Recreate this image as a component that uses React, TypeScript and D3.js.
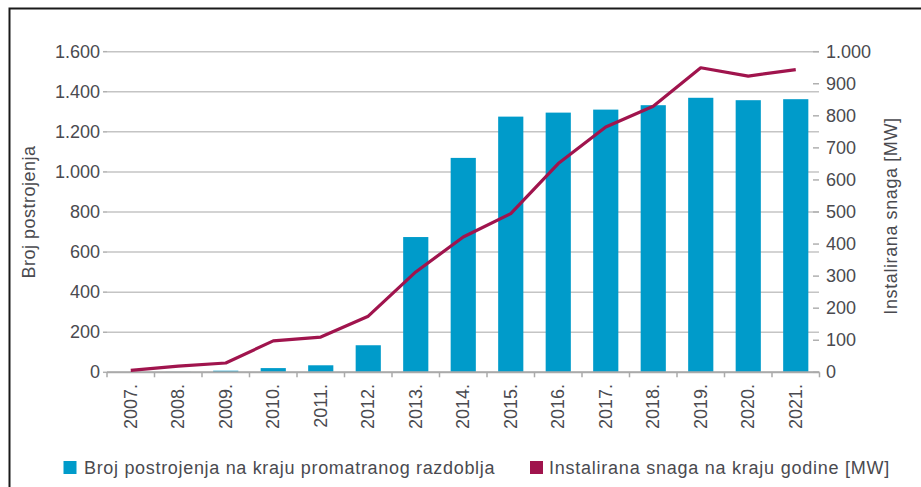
import React from 'react';
import * as d3 from 'd3';

const years = ['2007.', '2008.', '2009.', '2010.', '2011.', '2012.', '2013.', '2014.', '2015.', '2016.', '2017.', '2018.', '2019.', '2020.', '2021.'];
const plantCounts = [0, 2, 8, 21, 35, 135, 675, 1070, 1276, 1296, 1311, 1333, 1370, 1358, 1363];
const capacityMW = [6, 19, 29, 98, 110, 175, 313, 422, 495, 651, 765, 830, 950, 924, 944];
const leftTicks = [0, 200, 400, 600, 800, 1000, 1200, 1400, 1600];
const rightTicks = [0, 100, 200, 300, 400, 500, 600, 700, 800, 900, 1000];
const leftTitle = 'Broj postrojenja';
const rightTitle = 'Instalirana snaga [MW]';
const legendBars = 'Broj postrojenja na kraju promatranog razdoblja';
const legendLine = 'Instalirana snaga na kraju godine [MW]';

const BAR = '#009bca';
const LINE = '#a0144d';
const TEXT = '#4a4a4f';
const FONT = '"Liberation Sans", Arial, sans-serif';

const fmt = (d: number) => d3.format(',')(d).replace(/,/g, '.');

export default function App() {
  const x = d3.scaleBand<string>().domain(years).range([107, 819.5]).padding(0);
  const yL = d3.scaleLinear().domain([0, 1600]).range([372.3, 51.7]);
  const yR = d3.scaleLinear().domain([0, 1000]).range([372.3, 51.7]);
  const bw = x.bandwidth();
  const barW = bw * 0.53;
  const cx = (y: string) => (x(y) as number) + bw / 2;
  const line = d3
    .line<number>()
    .x((_, i) => cx(years[i]))
    .y((d) => yR(d));
  const boundaries = [...years.map((y) => x(y) as number), 819.5];

  return (
    <svg
      width={921}
      height={487}
      style={{ position: 'absolute', left: 0, top: 0, background: '#fff' }}
      fontFamily={FONT}
    >
      <rect x={0} y={0} width={921} height={487} fill="#fff" />
      {/* frame */}
      <path d="M9.5,500 L9.5,8.5 L930,8.5" fill="none" stroke="#1a1a1a" strokeWidth={2} />

      {/* gridlines */}
      {leftTicks.map((t) => (
        <line key={'g' + t} x1={107} x2={819} y1={yL(t)} y2={yL(t)} stroke="#c4c4c4" strokeWidth={1.5} />
      ))}
      {leftTicks.map((t) => (
        <line key={'lt' + t} x1={103} x2={107} y1={yL(t)} y2={yL(t)} stroke="#b0b0b0" strokeWidth={1.5} />
      ))}
      {rightTicks.map((t) => (
        <line key={'rt' + t} x1={813} x2={819} y1={yR(t)} y2={yR(t)} stroke="#b0b0b0" strokeWidth={1.5} />
      ))}

      {/* bars */}
      {years.map((y, i) => (
        <rect
          key={'b' + y}
          x={cx(y) - barW / 2}
          y={yL(plantCounts[i])}
          width={barW}
          height={yL(0) - yL(plantCounts[i])}
          fill={BAR}
        />
      ))}

      {/* x axis */}
      <line x1={107} x2={819.5} y1={yL(0)} y2={yL(0)} stroke="#aaaaaa" strokeWidth={2} />
      {boundaries.map((b, i) => (
        <line key={'xt' + i} x1={b} x2={b} y1={yL(0)} y2={yL(0) + 5} stroke="#aaaaaa" strokeWidth={1.5} />
      ))}

      {/* line */}
      <path d={line(capacityMW) || ''} fill="none" stroke={LINE} strokeWidth={3.2} strokeLinejoin="round" />

      {/* tick labels */}
      {leftTicks.map((t) => (
        <text key={'ll' + t} x={100} y={yL(t)} textAnchor="end" dominantBaseline="central" fontSize={18} fill={TEXT}>
          {fmt(t)}
        </text>
      ))}
      {rightTicks.map((t) => (
        <text key={'rl' + t} x={826} y={yR(t)} textAnchor="start" dominantBaseline="central" fontSize={18} fill={TEXT}>
          {fmt(t)}
        </text>
      ))}
      {years.map((y) => (
        <text
          key={'xl' + y}
          transform={`translate(${cx(y)},384) rotate(-90)`}
          textAnchor="end"
          dominantBaseline="central"
          fontSize={18}
          fill={TEXT}
        >
          {y}
        </text>
      ))}

      {/* axis titles */}
      <text transform="translate(29,212) rotate(-90)" textAnchor="middle" dominantBaseline="central" fontSize={18} letterSpacing={0.5} fill={TEXT}>
        {leftTitle}
      </text>
      <text transform="translate(891,216) rotate(-90)" textAnchor="middle" dominantBaseline="central" fontSize={18} letterSpacing={0.6} fill={TEXT}>
        {rightTitle}
      </text>

      {/* legend */}
      <rect x={63.5} y={461} width={13} height={13} fill={BAR} />
      <text x={84} y={468} dominantBaseline="central" fontSize={18} letterSpacing={0.68} fill={TEXT}>
        {legendBars}
      </text>
      <rect x={530} y={461} width={13} height={13} fill={LINE} />
      <text x={549} y={468} dominantBaseline="central" fontSize={18} letterSpacing={0.76} fill={TEXT}>
        {legendLine}
      </text>
    </svg>
  );
}
